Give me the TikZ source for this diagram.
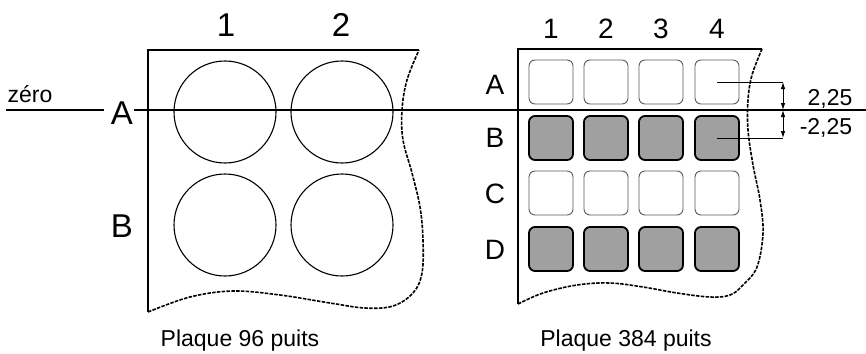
\documentclass[tikz,border=0pt]{standalone}
\usepackage{fontspec}
\setmainfont{Liberation Sans}
\usepackage{xcolor}
\usetikzlibrary{arrows.meta, positioning}
\definecolor{wellgrey}{RGB}{160,160,160}
\tikzset{
  plate/.style={line width=2pt},
  plateedge/.style={line width=1.6pt, dash pattern=on 3.5pt off 1.3pt},
  well/.style={draw, circle, minimum size=102pt, inner sep=0pt, line width=1.1pt},
  emptywell/.style={draw=black!65, rounded corners=6pt, minimum size=44pt, inner sep=0pt, line width=0.9pt},
  fullwell/.style={draw, fill=wellgrey, rounded corners=6pt, minimum size=44pt, inner sep=0pt, line width=1.8pt},
  biglbl/.style={anchor=base, inner sep=0pt, font=\fontsize{33}{33}\selectfont},
  midlbl/.style={anchor=base, inner sep=0pt, font=\fontsize{28}{28}\selectfont},
  smalllbl/.style={anchor=base, inner sep=0pt, font=\fontsize{23}{23}\selectfont},
}
\begin{document}
\begin{tikzpicture}[x=1pt, y=-1pt]
  \useasboundingbox (0,0) rectangle (866,353);

  \draw[plate] (419,50) -- (148,50) -- (148,312);
  \draw[plateedge] plot[smooth, tension=0.6] coordinates {(148,312) (190,297) (233,291) (280,295) (330,303) (365,308) (393,306) (413,293) (422,273) (423,240) (420,207) (412,173) (403,140) (402,110) (407,80) (419,50)};
  \draw[plate] (762,49) -- (518,49) -- (518,304);
  \draw[plateedge] plot[smooth, tension=0.6] coordinates {(518,304) (543,293) (577,285) (610,283) (643,287) (677,293) (710,297) (730,295) (743,285) (757,267) (763,233) (760,200) (753,165) (748,130) (748,100) (752,75) (762,49)};

  \node[well] (w1A) at (225,112) {};
  \node[well] (w2A) at (342,112) {};
  \node[well] (w1B) at (225,225) {};
  \node[well] (w2B) at (342,225) {};

  \node[emptywell] (A1) at (551,82) {};
  \node[emptywell] (A2) at (606,82) {};
  \node[emptywell] (A3) at (661,82) {};
  \node[emptywell] (A4) at (717,82) {};
  \node[fullwell] (B1) at (551,138) {};
  \node[fullwell] (B2) at (606,138) {};
  \node[fullwell] (B3) at (661,138) {};
  \node[fullwell] (B4) at (717,138) {};
  \node[emptywell] (C1) at (551,193) {};
  \node[emptywell] (C2) at (606,193) {};
  \node[emptywell] (C3) at (661,193) {};
  \node[emptywell] (C4) at (717,193) {};
  \node[fullwell] (D1) at (551,249) {};
  \node[fullwell] (D2) at (606,249) {};
  \node[fullwell] (D3) at (661,249) {};
  \node[fullwell] (D4) at (717,249) {};

  \node[biglbl] (col1) at (226,37) {1};
  \node[biglbl] (col2) at (341,37) {2};
  \node[biglbl] (rowA) at (122,124) {A};
  \node[biglbl] (rowB) at (122,237) {B};

  \node[midlbl] (k1) at (551,38) {1};
  \node[midlbl] (k2) at (606,38) {2};
  \node[midlbl] (k3) at (661,38) {3};
  \node[midlbl] (k4) at (717,38) {4};
  \node[midlbl] (kA) at (495,94) {A};
  \node[midlbl] (kB) at (495,147) {B};
  \node[midlbl] (kC) at (495,203) {C};
  \node[midlbl] (kD) at (495,259) {D};

  \node[smalllbl] (zero) at (30,102) {zéro};
  \node[smalllbl] (P96) at (240,346) {Plaque 96 puits};
  \node[smalllbl] (P384) at (626,346) {Plaque 384 puits};
  \node[smalllbl] (plus) at (830,105) {2,25};
  \node[smalllbl] (minus) at (826,134) {-2,25};

  \coordinate (z0) at (6,110);
  \coordinate (zA) at (104,110);
  \coordinate (zB) at (134,110);
  \coordinate (z1) at (866,110);
  \draw[line width=1.8pt] (z0) -- (zA);
  \draw[line width=1.8pt] (zB) -- (z1);

  \coordinate (dA) at (783,82);
  \coordinate (d0) at (783,110);
  \coordinate (dB) at (783,138);
  \draw[line width=0.9pt] (A4.center) -- (dA);
  \draw[line width=0.9pt] (B4.center) -- (dB);
  \draw[line width=0.9pt, {Latex[length=7pt,width=4.5pt]}-{Latex[length=7pt,width=4.5pt]}] (dA) -- (d0);
  \draw[line width=0.9pt, {Latex[length=7pt,width=4.5pt]}-{Latex[length=7pt,width=4.5pt]}] (d0) -- (dB);
\end{tikzpicture}
\end{document}
